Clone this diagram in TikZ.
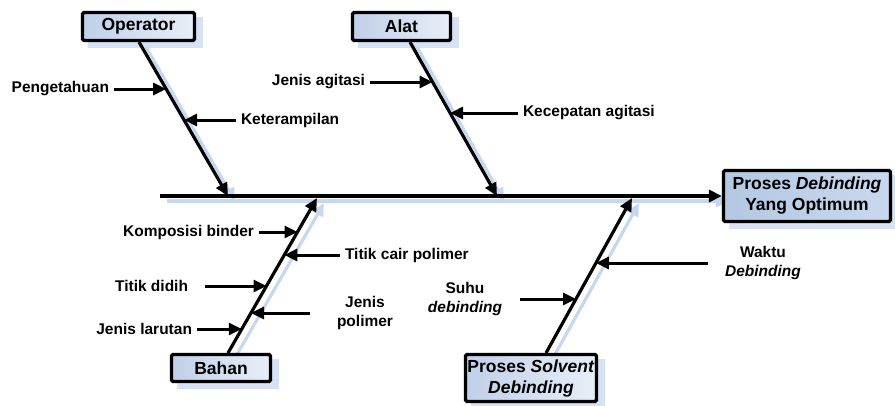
\documentclass[tikz,border=0pt]{standalone}
\usepackage{fontspec}
\setmainfont{Liberation Sans}
\usetikzlibrary{arrows.meta,backgrounds}
\definecolor{shadowc}{HTML}{C6D8F0}
\definecolor{boxshc}{HTML}{D6E2F3}
\definecolor{boxL}{HTML}{C0D0E9}
\definecolor{boxR}{HTML}{E8EEF7}
\definecolor{effL}{HTML}{B4C8E3}
\definecolor{effR}{HTML}{C9D8ED}
\begin{document}
\begin{tikzpicture}[x=1pt,y=-1pt,
  lbl/.style={font=\fontsize{15.5}{19}\selectfont\bfseries, inner sep=0pt, outer xsep=5pt, align=center},
  cause/.style={draw=black, line width=3.2pt, rounded corners=1.5pt, left color=boxL, right color=boxR,
    font=\fontsize{17.5}{21}\selectfont\bfseries, inner sep=0pt, align=center},
  bone/.style={line width=3.2pt},
  tipa/.style={-{Triangle[length=13pt,width=12pt]}},
  arr/.style={line width=3pt, tipa},
  shd/.style={draw=shadowc, line width=3.2pt},
  boxshd/.style={fill=boxshc},
]
\useasboundingbox (0,0) rectangle (895,405);

% cause and effect boxes
\node[cause, minimum width=112pt, minimum height=28pt] (op) at (138.5,26.5) {Operator};
\node[cause, minimum width=98pt, minimum height=28pt] (alat) at (401.5,26.5) {Alat};
\node[cause, minimum width=167pt, minimum height=51pt, left color=effL, right color=effR] (eff) at (807,196) {Proses \textit{Debinding}\\Yang Optimum};
\node[cause, minimum width=99pt, minimum height=27pt] (bahan) at (221,368) {Bahan};
\node[cause, minimum width=131pt, minimum height=47pt] (psd) at (531,378) {Proses \textit{Solvent}\\\textit{Debinding}};

% bone coordinates
\coordinate (spS) at (160,196);
\coordinate (opTop) at (139,42);  \coordinate (opTip) at (228,196);
\coordinate (alTop) at (410,42);  \coordinate (alTip) at (497,196);
\coordinate (baBot) at (228,353); \coordinate (baTip) at (317,198);
\coordinate (psBot) at (546,353); \coordinate (psTip) at (632,198);

% points where the minor arrows hit the bones
\coordinate (cPeng) at (166.2,89);
\coordinate (cKetr) at (184.1,120);
\coordinate (cJag) at (432.6,82);
\coordinate (cKec) at (450.1,113);
\coordinate (cKomp) at (297.5,232);
\coordinate (cTcp) at (284.3,255);
\coordinate (cTdd) at (266.5,286);
\coordinate (cJp) at (251,313);
\coordinate (cJl) at (241.8,329);
\coordinate (cWak) at (595.9,263);
\coordinate (cSuhu) at (576,299);

% labels
\node[lbl, anchor=east] (peng) at (114,89) {Pengetahuan};
\node[lbl, anchor=west] (ketr) at (236,120) {Keterampilan};
\node[lbl, anchor=east] (jag) at (370,82) {Jenis agitasi};
\node[lbl, anchor=west] (kec) at (518,113) {Kecepatan agitasi};
\node[lbl, anchor=east] (komp) at (259,232) {Komposisi binder};
\node[lbl, anchor=west] (tcp) at (340,255) {Titik cair polimer};
\node[lbl, anchor=east, outer xsep=17pt] (tdd) at (205,286) {Titik didih};
\node[lbl, outer xsep=27pt] (jp) at (365,313) {Jenis\\polimer};
\node[lbl, anchor=east] (jl) at (197,329) {Jenis larutan};
\node[lbl, outer xsep=17pt] (wak) at (763,263) {Waktu\\\textit{Debinding}};
\node[lbl, outer xsep=18pt] (suhu) at (465,299) {Suhu\\\textit{debinding}};

% shadows
\begin{scope}[on background layer]
  \fill[boxshd] ([shift={(7,6)}]op.south west) rectangle ([shift={(7,6)}]op.north east);
  \fill[boxshd] ([shift={(7,6)}]alat.south west) rectangle ([shift={(7,6)}]alat.north east);
  \fill[boxshd] ([shift={(7,6)}]eff.south west) rectangle ([shift={(7,6)}]eff.north east);
  \fill[boxshd] ([shift={(7,6)}]bahan.south west) rectangle ([shift={(7,6)}]bahan.north east);
  \fill[boxshd] ([shift={(7,6)}]psd.south west) rectangle ([shift={(7,6)}]psd.north east);
  \begin{scope}[transform canvas={xshift=7pt,yshift=-5pt}]
    \draw[shd,tipa] (spS) -- (eff);
    \draw[shd,tipa] (opTop) -- (opTip);
    \draw[shd,tipa] (alTop) -- (alTip);
    \draw[shd,tipa] (baBot) -- (baTip);
    \draw[shd,tipa] (psBot) -- (psTip);
  \end{scope}
\end{scope}

% bones
\draw[bone,tipa] (spS) -- (eff);
\draw[bone,tipa] (opTop) -- (opTip);
\draw[bone,tipa] (alTop) -- (alTip);
\draw[bone,tipa] (baBot) -- (baTip);
\draw[bone,tipa] (psBot) -- (psTip);

% minor arrows
\draw[arr] (peng) -- (cPeng);
\draw[arr] (ketr) -- (cKetr);
\draw[arr] (jag) -- (cJag);
\draw[arr] (kec) -- (cKec);
\draw[arr] (komp) -- (cKomp);
\draw[arr] (tcp) -- (cTcp);
\draw[arr] (tdd) -- (cTdd);
\draw[arr] (jp) -- (cJp);
\draw[arr] (jl) -- (cJl);
\draw[arr] (wak) -- (cWak);
\draw[arr] (suhu) -- (cSuhu);
\end{tikzpicture}
\end{document}
